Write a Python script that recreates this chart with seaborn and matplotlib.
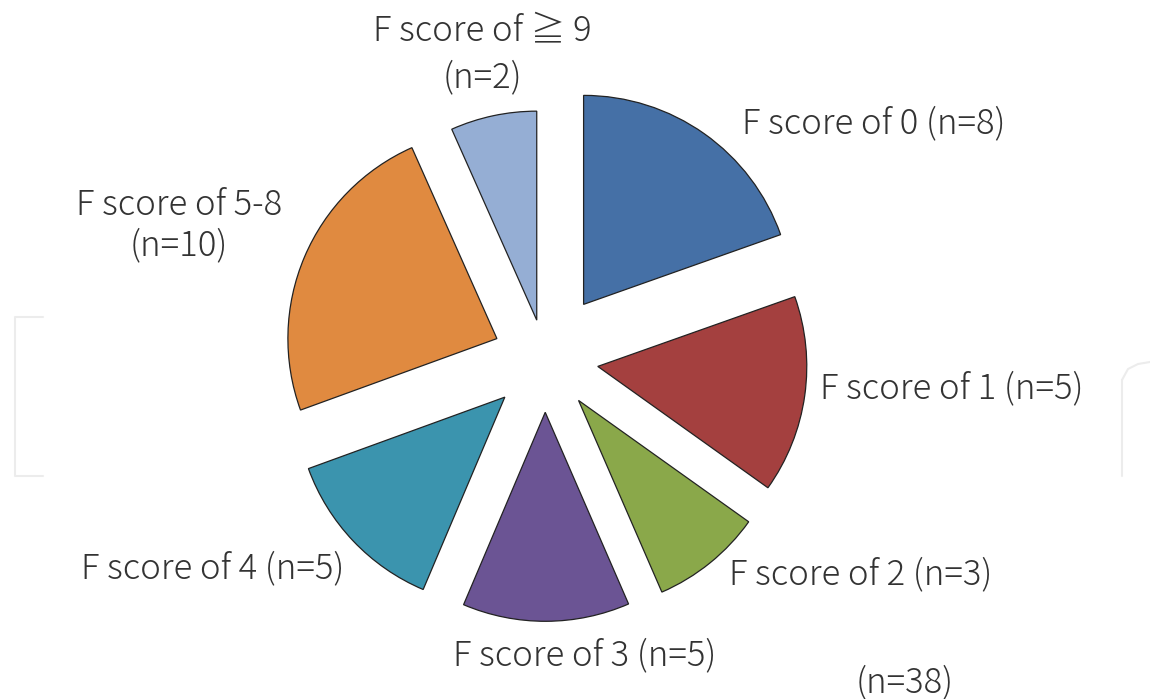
import matplotlib
matplotlib.use("Agg")
import matplotlib.pyplot as plt
import seaborn as sns

# --- data ---
categories = ["F score of 0", "F score of 1", "F score of 2", "F score of 3",
              "F score of 4", "F score of 5-8", "F score of \u2267 9"]
counts = [8, 5, 3, 5, 5, 10, 2]
total_n = 38
# wedge sizes as drawn in the figure (degrees)
slice_deg = [70.5, 55, 31, 46.5, 47, 86, 24]

colors = ["#4570a6", "#a4403f", "#8aa84a", "#6b5494",
          "#3b94ae", "#e08a40", "#95aed4"]
explode_frac = [0.32, 0.255, 0.255, 0.255, 0.265, 0.25, 0.19]

# label anchor positions in pixel space (x, y from top), alignment, line spacing
label_pos = [
    (742, 123, "left", None),
    (820, 388, "left", None),
    (729, 574, "left", None),
    (453, 655, "left", None),
    (81, 568, "left", None),
    (179, 225, "center", 1.15),
    (482, 54, "center", 1.4),
]

W, H = 1150, 699
R = 209

sns.set_theme(style="white")
plt.rcParams["font.family"] = ["Noto Sans CJK JP", "DejaVu Sans"]

fig = plt.figure(figsize=(W / 100, H / 100), dpi=100)
ax = fig.add_axes([0, 0, 1, 1])

# faint watermark outlines
ax.plot([43, 15, 15, 43], [H - 317, H - 317, H - 476, H - 476],
        color="#ececec", lw=1.5, zorder=0)
ax.plot([1122, 1122], [H - 476, H - 380], color="#ececec", lw=1.5, zorder=0)
ax.plot([1122, 1128, 1138, 1150], [H - 380, H - 369, H - 364, H - 362],
        color="#ececec", lw=1.5, zorder=0)

# explode is in data units, so scale it by the radius
wedges, _ = ax.pie(
    slice_deg,
    colors=colors,
    explode=[e * R for e in explode_frac],
    startangle=90,
    counterclock=False,
    center=(545, H - 359),
    radius=R,
    wedgeprops=dict(edgecolor="#222222", linewidth=0.9),
)

for cat, n, (x, y, ha, ls) in zip(categories, counts, label_pos):
    if ls:
        text = f"{cat}\n(n={n})"
    else:
        text = f"{cat} (n={n})"
    ax.text(x, H - y, text, ha=ha, va="center", fontsize=25,
            color="#333333", linespacing=ls or 1.2, fontweight="light")

ax.text(905, H - 682, f"(n={total_n})", ha="center", va="center",
        fontsize=25, color="#333333", fontweight="light")

ax.set_xlim(0, W)
ax.set_ylim(0, H)
ax.set_aspect("equal")
ax.axis("off")

fig.savefig("out.png", dpi=100, facecolor="white")
